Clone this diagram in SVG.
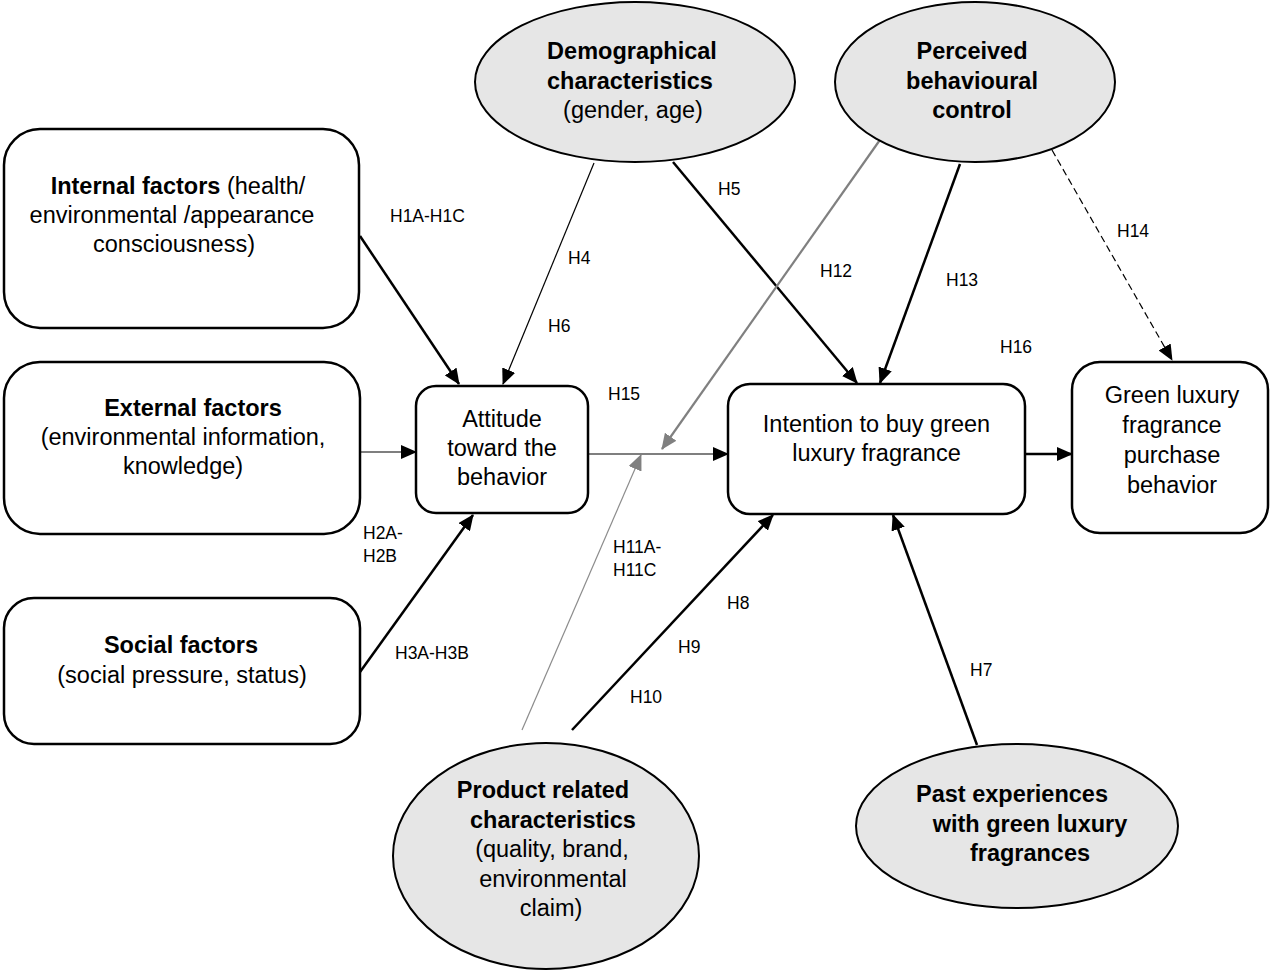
<svg xmlns="http://www.w3.org/2000/svg" width="1274" height="973" viewBox="0 0 1274 973">
<style>
text{font-family:"Liberation Sans",Arial,sans-serif;fill:#000}
.n{font-size:23.5px;text-anchor:middle}
.b{font-weight:bold}
.lbl{font-size:17.5px}
.box{fill:#fff;stroke:#000;stroke-width:2.5}
.ell{fill:#e6e6e6;stroke:#000;stroke-width:2}
.bold{stroke:#000;stroke-width:2.5;fill:none}
.thin{stroke:#000;stroke-width:1.2;fill:none}
.dash{stroke:#000;stroke-width:1.2;fill:none;stroke-dasharray:7 4}
.g1{stroke:#808080;stroke-width:2.2;fill:none}
.g2{stroke:#8c8c8c;stroke-width:1.2;fill:none}
</style>
<defs>
<marker id="ah" markerUnits="userSpaceOnUse" viewBox="0 0 16 14" markerWidth="16" markerHeight="14" refX="15" refY="7" orient="auto"><path d="M0,0 L16,7 L0,14 z" fill="#000"/></marker>
<marker id="ahg" markerUnits="userSpaceOnUse" viewBox="0 0 16 14" markerWidth="16" markerHeight="14" refX="15" refY="7" orient="auto"><path d="M0,0 L16,7 L0,14 z" fill="#808080"/></marker>
</defs>
<rect width="1274" height="973" fill="#fff"/>

<g id="connectors">
<line class="bold" x1="360" y1="236" x2="459" y2="384" marker-end="url(#ah)"/>
<line class="thin" x1="594" y1="163" x2="503" y2="384" marker-end="url(#ah)"/>
<line class="bold" x1="673" y1="162" x2="857" y2="383" marker-end="url(#ah)"/>
<line class="bold" x1="960" y1="164" x2="880" y2="383" marker-end="url(#ah)"/>
<line class="dash" x1="1052" y1="150" x2="1172" y2="360" marker-end="url(#ah)"/>
<line class="g1" x1="882" y1="137" x2="662" y2="449" marker-end="url(#ahg)"/>
<line class="thin" x1="360" y1="452" x2="416" y2="452" marker-end="url(#ah)"/>
<line class="thin" x1="588" y1="454" x2="728" y2="454" marker-end="url(#ah)"/>
<line class="bold" x1="1025" y1="454" x2="1072" y2="454" marker-end="url(#ah)"/>
<line class="bold" x1="360" y1="672" x2="473" y2="515" marker-end="url(#ah)"/>
<line class="g2" x1="522" y1="730" x2="641" y2="455" marker-end="url(#ahg)"/>
<line class="bold" x1="572" y1="730" x2="773" y2="515" marker-end="url(#ah)"/>
<line class="bold" x1="977" y1="745" x2="893" y2="515" marker-end="url(#ah)"/>
</g>

<g id="labels">
<text class="lbl" x="390" y="222">H1A-H1C</text>
<text class="lbl" x="568" y="264">H4</text>
<text class="lbl" x="548" y="332">H6</text>
<text class="lbl" x="718" y="195">H5</text>
<text class="lbl" x="820" y="277">H12</text>
<text class="lbl" x="946" y="286">H13</text>
<text class="lbl" x="1117" y="237">H14</text>
<text class="lbl" x="1000" y="353">H16</text>
<text class="lbl" x="608" y="400">H15</text>
<text class="lbl" x="363" y="539">H2A-</text>
<text class="lbl" x="363" y="562">H2B</text>
<text class="lbl" x="395" y="659">H3A-H3B</text>
<text class="lbl" x="613" y="553">H11A-</text>
<text class="lbl" x="613" y="576">H11C</text>
<text class="lbl" x="727" y="609">H8</text>
<text class="lbl" x="678" y="653">H9</text>
<text class="lbl" x="630" y="703">H10</text>
<text class="lbl" x="970" y="676">H7</text>
</g>

<g id="internal">
<rect class="box" x="4" y="129" width="355" height="199" rx="36"/>
<text class="n" x="178" y="194"><tspan class="b">Internal factors</tspan> (health/</text>
<text class="n" x="172" y="223">environmental /appearance</text>
<text class="n" x="174" y="252">consciousness)</text>
</g>

<g id="external">
<rect class="box" x="4" y="362" width="356" height="172" rx="36"/>
<text class="n b" x="193" y="416">External factors</text>
<text class="n" x="183" y="445">(environmental information,</text>
<text class="n" x="183" y="474">knowledge)</text>
</g>

<g id="social">
<rect class="box" x="4" y="598" width="356" height="146" rx="30"/>
<text class="n b" x="181" y="653">Social factors</text>
<text class="n" x="182" y="683">(social pressure, status)</text>
</g>

<g id="attitude">
<rect class="box" x="416" y="386" width="172" height="127" rx="20"/>
<text class="n" x="502" y="427">Attitude</text>
<text class="n" x="502" y="456">toward the</text>
<text class="n" x="502" y="485">behavior</text>
</g>

<g id="intention">
<rect class="box" x="728" y="384" width="297" height="130" rx="22"/>
<text class="n" x="876.5" y="432">Intention to buy green</text>
<text class="n" x="876.5" y="461">luxury fragrance</text>
</g>

<g id="purchase">
<rect class="box" x="1072" y="362" width="196" height="171" rx="28"/>
<text class="n" x="1172" y="403">Green luxury</text>
<text class="n" x="1172" y="433">fragrance</text>
<text class="n" x="1172" y="463">purchase</text>
<text class="n" x="1172" y="493">behavior</text>
</g>

<g id="demographical">
<ellipse class="ell" cx="635" cy="82" rx="160" ry="80"/>
<text class="n b" x="632" y="59">Demographical</text>
<text class="n b" x="630" y="88.5">characteristics</text>
<text class="n" x="633" y="118">(gender, age)</text>
</g>

<g id="perceived">
<ellipse class="ell" cx="975" cy="82" rx="140" ry="80"/>
<text class="n b" x="972" y="59">Perceived</text>
<text class="n b" x="972" y="88.5">behavioural</text>
<text class="n b" x="972" y="118">control</text>
</g>

<g id="product">
<ellipse class="ell" cx="546" cy="856" rx="153" ry="113"/>
<text class="n b" x="543" y="798">Product related</text>
<text class="n b" x="553" y="827.5">characteristics</text>
<text class="n" x="552" y="857">(quality, brand,</text>
<text class="n" x="553" y="886.5">environmental</text>
<text class="n" x="551" y="916">claim)</text>
</g>

<g id="past">
<ellipse class="ell" cx="1017" cy="826" rx="161" ry="82"/>
<text class="n b" x="1012" y="802">Past experiences</text>
<text class="n b" x="1030" y="832">with green luxury</text>
<text class="n b" x="1030" y="861">fragrances</text>
</g>
</svg>
